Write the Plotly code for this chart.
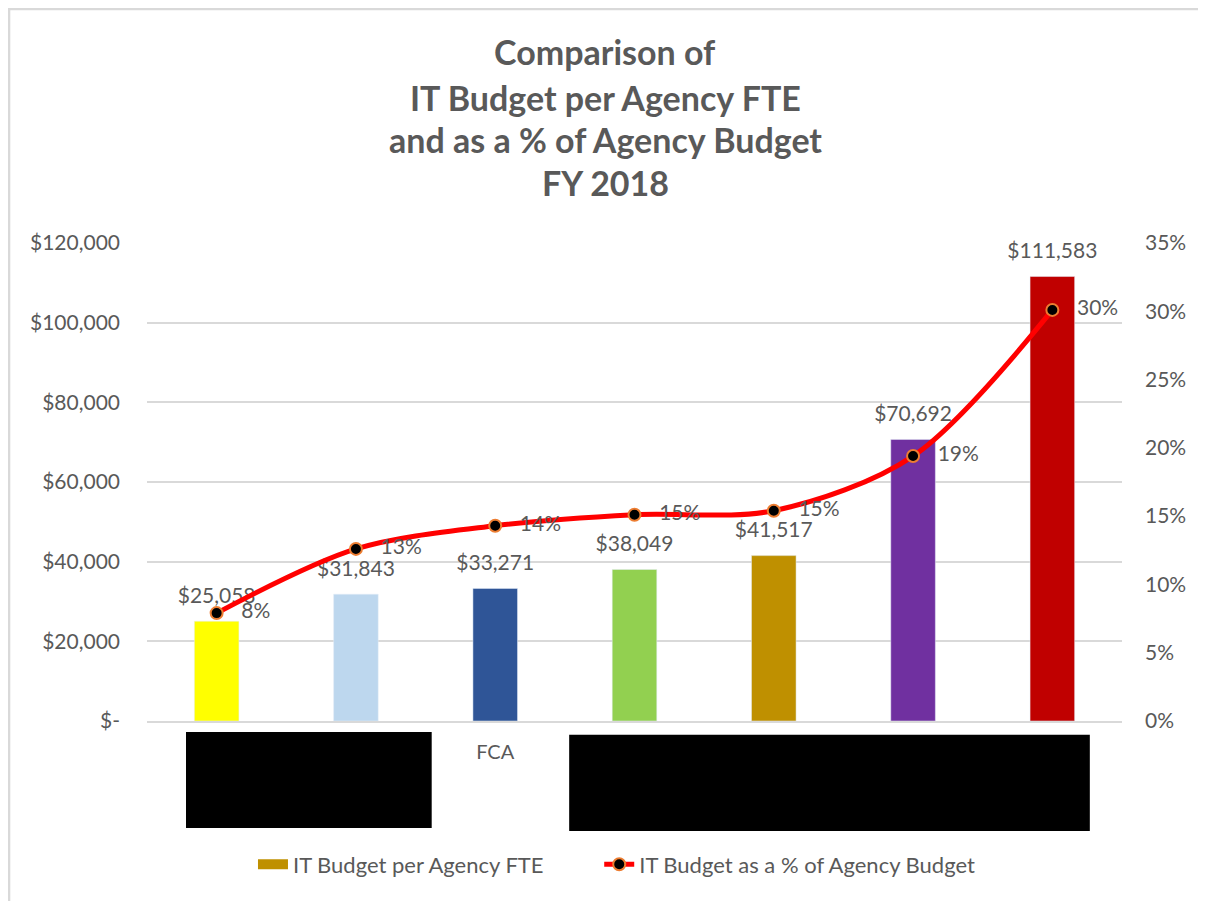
import plotly.graph_objects as go

# Data
agencies = ["Agency A", "Agency B", "FCA", "Agency D", "Agency E", "Agency F", "Agency G"]
redacted = [True, True, False, True, True, True, True]
it_per_fte = [25058, 31843, 33271, 38049, 41517, 70692, 111583]
it_pct_budget = [0.079, 0.126, 0.143, 0.151, 0.154, 0.194, 0.301]
bar_colors = ["#FFFF00", "#BDD7EE", "#2F5597", "#92D050", "#BF9000", "#7030A0", "#C00000"]
left_ticks = [0, 20000, 40000, 60000, 80000, 100000, 120000]
left_tick_text = ["$-", "$20,000", "$40,000", "$60,000", "$80,000", "$100,000", "$120,000"]
title_lines = ["Comparison of", "IT Budget per Agency FTE", "and as a % of Agency Budget", "FY 2018"]

grey = "#595959"
font = "Lato"

fig = go.Figure()

fig.add_trace(go.Bar(x=agencies, y=it_per_fte, marker_color=bar_colors, width=0.32,
                     showlegend=False))
# bar value labels, sat a little above the bar tops like Excel does
fig.add_trace(go.Scatter(
    x=agencies, y=it_per_fte, mode="markers+text", showlegend=False, hoverinfo="skip",
    marker=dict(size=19, color="rgba(0,0,0,0)"),
    text=["${:,}".format(v) for v in it_per_fte], textposition="top center",
    textfont=dict(family=font, size=21, color=grey), cliponaxis=False,
))
# swatch-only trace so the legend shows the gold bar like the original
# (trailing non-breaking spaces open up the gap between the two legend entries)
fig.add_trace(go.Scatter(x=[None], y=[None], mode="lines",
                         name="IT Budget per Agency FTE" + "\u00a0" * 9,
                         line=dict(color="#BF9000", width=12)))

fig.add_trace(go.Scatter(
    x=agencies, y=it_pct_budget, yaxis="y2", name="IT Budget as a % of Agency Budget",
    mode="lines+markers+text", line=dict(color="#FF0000", width=5, shape="spline", smoothing=0.9),
    marker=dict(color="black", size=12, line=dict(color="#ED7D31", width=2)),
    texttemplate="   %{y:.0%}", textposition="middle right",
    textfont=dict(family=font, size=21, color=grey), cliponaxis=False,
))

# title, one annotation per line to get Excel-like line spacing
title_y = [1.401, 1.3045, 1.217, 1.126]
for line, ty in zip(title_lines, title_y):
    fig.add_annotation(text="<b>" + line + "</b>", xref="paper", yref="paper",
                       x=0.47, y=ty, yanchor="middle", showarrow=False,
                       font=dict(family=font, size=34, color=grey))

# redaction boxes over the hidden agency names + outer chart border
fig.add_shape(type="rect", xref="paper", yref="paper", x0=0.040, x1=0.292, y0=-0.224, y1=-0.023,
              fillcolor="black", line_width=0, layer="above")
fig.add_shape(type="rect", xref="paper", yref="paper", x0=0.433, x1=0.967, y0=-0.230, y1=-0.029,
              fillcolor="black", line_width=0, layer="above")
fig.add_shape(type="rect", xref="paper", yref="paper", x0=-0.1415, x1=1.081, y0=-0.40, y1=1.4895,
              line=dict(color="#D9D9D9", width=2.5), layer="below")

# page body has an 8px margin, so margins are shifted to land the plot area where the original is
fig.update_layout(
    width=1206, height=901,
    margin=dict(l=139, r=92, t=235, b=188),
    paper_bgcolor="white", plot_bgcolor="white",
    barmode="overlay",
    font=dict(family=font, size=21, color=grey),
    xaxis=dict(tickvals=agencies, ticktext=["" if r else a for a, r in zip(agencies, redacted)],
               showgrid=False, showline=True, linecolor="#D9D9D9", linewidth=1.5,
               ticks="", ticklabelstandoff=12, tickfont=dict(size=20, color=grey)),
    yaxis=dict(range=[0, 120000], tickvals=left_ticks, ticktext=left_tick_text,
               gridcolor="#D9D9D9", gridwidth=1.5, zeroline=False, ticks="", ticklabelstandoff=26,
               tickfont=dict(size=21, color=grey)),
    yaxis2=dict(range=[0, 0.35], overlaying="y", side="right", dtick=0.05, tickformat=".0%",
                showgrid=False, zeroline=False, ticks="", ticklabelstandoff=22,
                tickfont=dict(size=21, color=grey)),
    legend=dict(orientation="h", x=0.1087, xanchor="left", y=-0.30, yanchor="middle",
                font=dict(family=font, size=22, color=grey), traceorder="normal"),
)

fig.write_html("out.html")
